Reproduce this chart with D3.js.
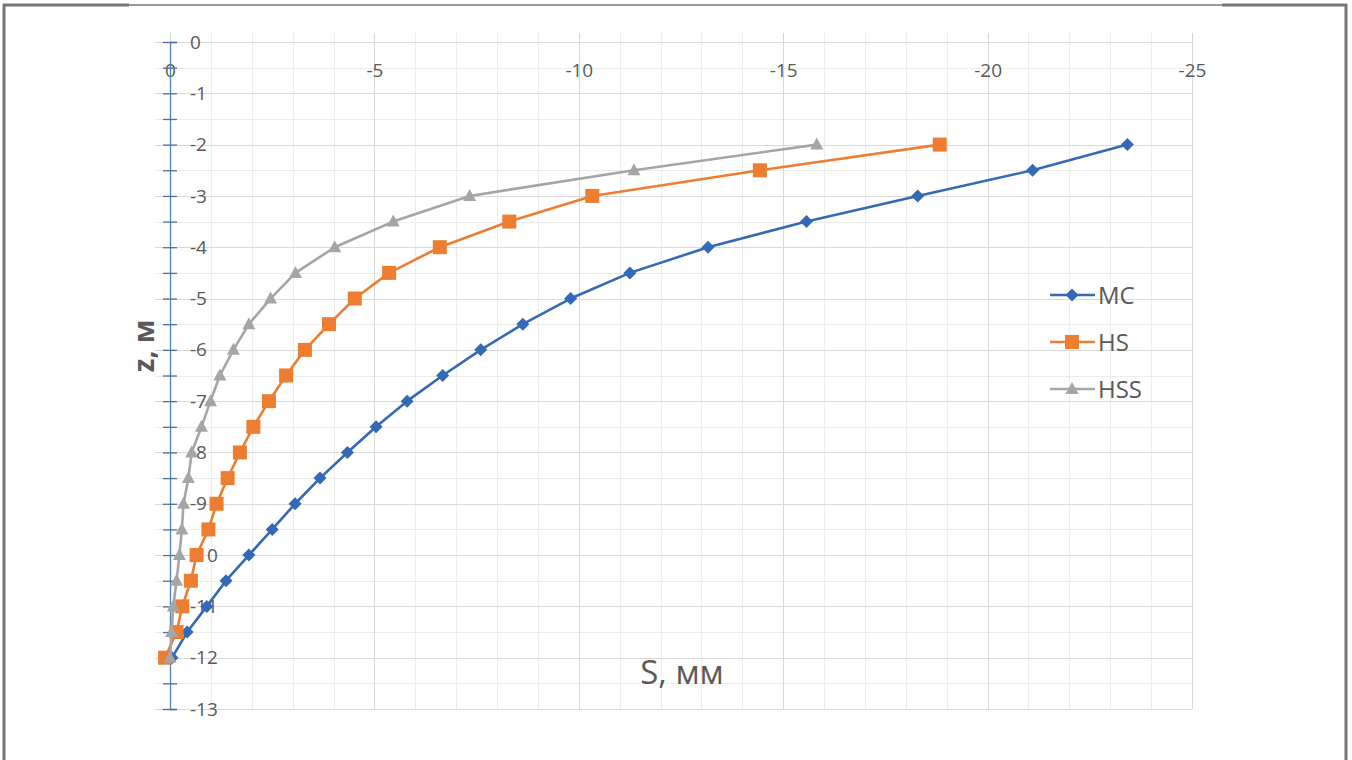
<!DOCTYPE html>
<html>
<head>
<meta charset="utf-8">
<script src="https://cdn.jsdelivr.net/npm/d3@7"></script>
<style>
  body { margin: 0; background: #fff; }
  svg { display: block; font-family: "Open Sans", sans-serif; }
  .grid line { shape-rendering: crispEdges; }
  .grid .domain { display: none; }
</style>
</head>
<body>
<div id="chart"></div>
<script>
// depth of the point, m
var depth = [-2, -2.5, -3, -3.5, -4, -4.5, -5, -5.5, -6, -6.5, -7, -7.5, -8, -8.5, -9, -9.5, -10, -10.5, -11, -11.5, -12];
// settlement S, mm for each model
var mc  = [-23.42, -21.1, -18.29, -15.57, -13.16, -11.25, -9.8, -8.63, -7.6, -6.67, -5.8, -5.04, -4.34, -3.67, -3.06, -2.5, -1.93, -1.37, -0.9, -0.42, -0.05];
var hs  = [-18.83, -14.43, -10.33, -8.3, -6.6, -5.36, -4.52, -3.89, -3.3, -2.84, -2.42, -2.04, -1.71, -1.41, -1.14, -0.94, -0.65, -0.51, -0.3, -0.16, 0.12];
var hss = [-15.82, -11.35, -7.33, -5.46, -4.03, -3.07, -2.46, -1.93, -1.55, -1.22, -0.99, -0.77, -0.53, -0.45, -0.33, -0.29, -0.23, -0.16, -0.08, -0.04, 0];

var seriesNames = ["MC", "HS", "HSS"];
var seriesColors = ["#3469b5", "#ed7d31", "#a5a5a5"];
var seriesMarkers = ["diamond", "square", "triangle"];

var xTicks = [0, -5, -10, -15, -20, -25];
var yTicks = [0, -1, -2, -3, -4, -5, -6, -7, -8, -9, -10, -11, -12, -13];

var width = 1352, height = 760;

var svg = d3.select("#chart").append("svg")
    .attr("width", width)
    .attr("height", height);

var x = d3.scaleLinear().domain([0, -25]).range([170, 1192]);
var y = d3.scaleLinear().domain([0, -13]).range([42, 709]);

// frame around the chart
var frame = svg.append("g").attr("class", "frame");
frame.append("line").attr("x1", 4).attr("y1", 5).attr("x2", 1346).attr("y2", 5)
    .attr("stroke", "#9a9a9a").attr("stroke-width", 2);
frame.append("line").attr("x1", 3).attr("y1", 5).attr("x2", 129).attr("y2", 5)
    .attr("stroke", "#777").attr("stroke-width", 3);
frame.append("line").attr("x1", 1222).attr("y1", 5).attr("x2", 1347).attr("y2", 5)
    .attr("stroke", "#777").attr("stroke-width", 3);
frame.append("line").attr("x1", 4).attr("y1", 4).attr("x2", 4).attr("y2", 760)
    .attr("stroke", "#777").attr("stroke-width", 3);
frame.append("line").attr("x1", 1346).attr("y1", 4).attr("x2", 1346).attr("y2", 760)
    .attr("stroke", "#777").attr("stroke-width", 3);

// minor grid
svg.append("g").attr("class", "grid")
    .attr("transform", "translate(0,709)")
    .call(d3.axisBottom(x).tickValues(d3.range(0, -26, -1)).tickSize(-(709 - 33)).tickFormat(""))
    .selectAll("line").attr("stroke", "#ececec");
svg.append("g").attr("class", "grid")
    .attr("transform", "translate(1192,0)")
    .call(d3.axisLeft(y).tickValues(d3.range(0, -13.5, -0.5)).tickSize(1192 - 155).tickFormat(""))
    .selectAll("line").attr("stroke", "#ececec");

// major grid
svg.append("g").attr("class", "grid")
    .attr("transform", "translate(0,709)")
    .call(d3.axisBottom(x).tickValues(xTicks).tickSize(-(709 - 33)).tickFormat(""))
    .selectAll("line").attr("stroke", "#d9d9d9");
svg.append("g").attr("class", "grid")
    .attr("transform", "translate(1192,0)")
    .call(d3.axisLeft(y).tickValues(yTicks).tickSize(1192 - 155).tickFormat(""))
    .selectAll("line").attr("stroke", "#d9d9d9");

// x axis labels (no line)
var xAxis = svg.append("g")
    .attr("transform", "translate(0,70)")
    .call(d3.axisBottom(x).tickValues(xTicks).tickSize(0).tickPadding(0)
        .tickFormat(function(d) { return String(d); }));
xAxis.select(".domain").remove();
xAxis.selectAll("text")
    .attr("dy", "0.35em")
    .style("font-size", "19px")
    .style("font-family", "Open Sans, sans-serif")
    .attr("fill", "#595959");

// y axis: blue line with crossing ticks, labels on the right
var yAxis = svg.append("g")
    .attr("transform", "translate(" + x(0) + ",0)")
    .call(d3.axisRight(y).tickValues(d3.range(0, -13.5, -0.5)).tickSize(7).tickPadding(13)
        .tickFormat(function(d) { return d % 1 === 0 ? String(d) : ""; }));
yAxis.select(".domain").attr("stroke", "#4f7fc0").attr("stroke-width", 1.3);
yAxis.selectAll(".tick line").attr("x1", -7).attr("stroke", "#4a6f9c").attr("stroke-width", 1.3);
yAxis.selectAll("text")
    .style("font-size", "19px")
    .style("font-family", "Open Sans, sans-serif")
    .attr("fill", "#595959");

// axis titles
svg.append("text")
    .attr("transform", "translate(154,346) rotate(-90)")
    .attr("text-anchor", "middle")
    .style("font-size", "28px")
    .style("font-weight", "bold")
    .attr("fill", "#595959")
    .text("z, м");

svg.append("text")
    .attr("x", 682)
    .attr("y", 684)
    .attr("text-anchor", "middle")
    .style("font-size", "33px")
    .attr("fill", "#595959")
    .text("S, мм");

// markers
function drawMarker(g, type, color, cx, cy) {
    if (type == "diamond") {
        g.append("path")
            .attr("d", "M" + cx + "," + (cy - 6.5) + "L" + (cx + 6.5) + "," + cy +
                "L" + cx + "," + (cy + 6.5) + "L" + (cx - 6.5) + "," + cy + "Z")
            .attr("fill", color);
    } else if (type == "square") {
        g.append("rect")
            .attr("x", cx - 7).attr("y", cy - 7)
            .attr("width", 14).attr("height", 14)
            .attr("fill", color);
    } else {
        g.append("path")
            .attr("d", "M" + cx + "," + (cy - 7) + "L" + (cx + 6.5) + "," + (cy + 5) +
                "L" + (cx - 6.5) + "," + (cy + 5) + "Z")
            .attr("fill", color);
    }
}

var allSeries = [mc, hs, hss];
var line = d3.line()
    .x(function(d) { return x(d[0]); })
    .y(function(d) { return y(d[1]); });

allSeries.forEach(function(vals, i) {
    var pts = vals.map(function(v, j) { return [v, depth[j]]; });
    var g = svg.append("g").attr("class", "series");
    g.append("path")
        .datum(pts)
        .attr("fill", "none")
        .attr("stroke", seriesColors[i])
        .attr("stroke-width", 2.6)
        .attr("stroke-linejoin", "round")
        .attr("d", line);
    pts.forEach(function(p) {
        drawMarker(g, seriesMarkers[i], seriesColors[i], x(p[0]), y(p[1]));
    });
});

// legend
var legend = svg.append("g").attr("class", "legend");
seriesNames.forEach(function(name, i) {
    var ly = 295 + i * 47;
    legend.append("line")
        .attr("x1", 1050).attr("x2", 1095)
        .attr("y1", ly).attr("y2", ly)
        .attr("stroke", seriesColors[i])
        .attr("stroke-width", 2.6);
    drawMarker(legend, seriesMarkers[i], seriesColors[i], 1072, ly);
    legend.append("text")
        .attr("x", 1098)
        .attr("y", ly)
        .attr("dy", "0.36em")
        .style("font-size", "24px")
        .attr("fill", "#595959")
        .text(name);
});
</script>
</body>
</html>
